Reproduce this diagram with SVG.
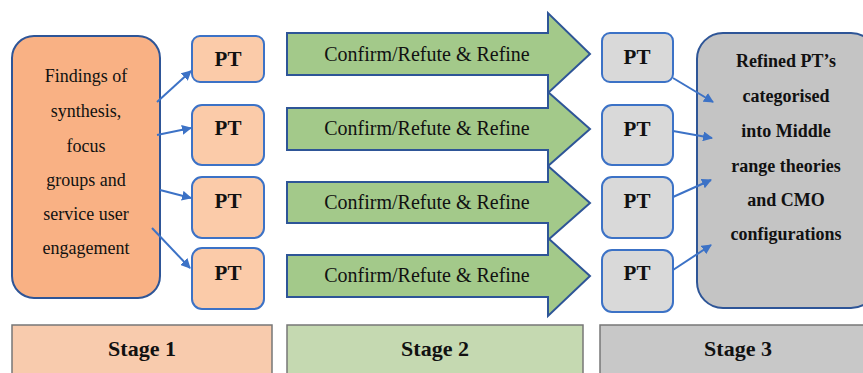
<svg xmlns="http://www.w3.org/2000/svg" width="863" height="373" viewBox="0 0 863 373">
<defs>
<marker id="ah" viewBox="0 0 10 10" refX="9" refY="5" markerWidth="5" markerHeight="5" orient="auto" markerUnits="strokeWidth">
<path d="M0,0 L10,5 L0,10 z" fill="#3C72C6"/>
</marker>
</defs>
<rect width="863" height="373" fill="#fff"/>

<g id="findings">
<rect x="12" y="36" width="148" height="262" rx="22" fill="#F9B184" stroke="#2E5597" stroke-width="2"/>
<text x="86" y="82" style="font-family:'Liberation Serif',serif" font-size="18" text-anchor="middle" fill="#111">Findings of</text>
<text x="86" y="117" style="font-family:'Liberation Serif',serif" font-size="18" text-anchor="middle" fill="#111">synthesis,</text>
<text x="86" y="152" style="font-family:'Liberation Serif',serif" font-size="18" text-anchor="middle" fill="#111">focus</text>
<text x="86" y="186" style="font-family:'Liberation Serif',serif" font-size="18" text-anchor="middle" fill="#111">groups and</text>
<text x="86" y="220" style="font-family:'Liberation Serif',serif" font-size="18" text-anchor="middle" fill="#111">service user</text>
<text x="86" y="254" style="font-family:'Liberation Serif',serif" font-size="18" text-anchor="middle" fill="#111">engagement</text>
</g>

<g id="pt1a"><rect x="192" y="36" width="72" height="46" rx="8" fill="#FBCBA9" stroke="#3C72C6" stroke-width="2"/><text x="228" y="66" style="font-family:'Liberation Serif',serif" font-size="21" font-weight="bold" text-anchor="middle" fill="#111">PT</text></g>
<g id="pt1b"><rect x="192" y="105" width="72" height="60" rx="10" fill="#FBCBA9" stroke="#3C72C6" stroke-width="2"/><text x="228" y="135" style="font-family:'Liberation Serif',serif" font-size="21" font-weight="bold" text-anchor="middle" fill="#111">PT</text></g>
<g id="pt1c"><rect x="192" y="177" width="72" height="61" rx="10" fill="#FBCBA9" stroke="#3C72C6" stroke-width="2"/><text x="228" y="208" style="font-family:'Liberation Serif',serif" font-size="21" font-weight="bold" text-anchor="middle" fill="#111">PT</text></g>
<g id="pt1d"><rect x="192" y="248" width="72" height="61" rx="10" fill="#FBCBA9" stroke="#3C72C6" stroke-width="2"/><text x="228" y="280" style="font-family:'Liberation Serif',serif" font-size="21" font-weight="bold" text-anchor="middle" fill="#111">PT</text></g>

<g id="arrow1"><path d="M287,33 H548 V13 L590,54 L548,93 V75 H287 Z" fill="#A3C98A" stroke="#2E5597" stroke-width="2"/><text x="427" y="61" style="font-family:'Liberation Serif',serif" font-size="20" text-anchor="middle" fill="#111">Confirm/Refute &amp; Refine</text></g>
<g id="arrow2"><path d="M287,108 H548 V92 L590,129 L548,166 V150 H287 Z" fill="#A3C98A" stroke="#2E5597" stroke-width="2"/><text x="427" y="135" style="font-family:'Liberation Serif',serif" font-size="20" text-anchor="middle" fill="#111">Confirm/Refute &amp; Refine</text></g>
<g id="arrow3"><path d="M287,182 H548 V166 L590,203 L548,240 V223 H287 Z" fill="#A3C98A" stroke="#2E5597" stroke-width="2"/><text x="427" y="209" style="font-family:'Liberation Serif',serif" font-size="20" text-anchor="middle" fill="#111">Confirm/Refute &amp; Refine</text></g>
<g id="arrow4"><path d="M287,255 H548 V238 L590,276 L548,316 V297 H287 Z" fill="#A3C98A" stroke="#2E5597" stroke-width="2"/><text x="427" y="282" style="font-family:'Liberation Serif',serif" font-size="20" text-anchor="middle" fill="#111">Confirm/Refute &amp; Refine</text></g>

<g id="pt3a"><rect x="602" y="33" width="71" height="49" rx="8" fill="#D9D9D9" stroke="#3C72C6" stroke-width="2"/><text x="637" y="64" style="font-family:'Liberation Serif',serif" font-size="21" font-weight="bold" text-anchor="middle" fill="#111">PT</text></g>
<g id="pt3b"><rect x="602" y="105" width="71" height="60" rx="10" fill="#D9D9D9" stroke="#3C72C6" stroke-width="2"/><text x="637" y="136" style="font-family:'Liberation Serif',serif" font-size="21" font-weight="bold" text-anchor="middle" fill="#111">PT</text></g>
<g id="pt3c"><rect x="602" y="177" width="71" height="61" rx="10" fill="#D9D9D9" stroke="#3C72C6" stroke-width="2"/><text x="637" y="208" style="font-family:'Liberation Serif',serif" font-size="21" font-weight="bold" text-anchor="middle" fill="#111">PT</text></g>
<g id="pt3d"><rect x="602" y="250" width="71" height="62" rx="10" fill="#D9D9D9" stroke="#3C72C6" stroke-width="2"/><text x="637" y="280" style="font-family:'Liberation Serif',serif" font-size="21" font-weight="bold" text-anchor="middle" fill="#111">PT</text></g>

<g id="refined">
<rect x="697" y="33" width="180" height="275" rx="26" fill="#C4C4C4" stroke="#2E5597" stroke-width="2"/>
<text x="786" y="67" style="font-family:'Liberation Serif',serif" font-size="18" font-weight="bold" text-anchor="middle" fill="#111">Refined PT’s</text>
<text x="786" y="102" style="font-family:'Liberation Serif',serif" font-size="18" font-weight="bold" text-anchor="middle" fill="#111">categorised</text>
<text x="786" y="137" style="font-family:'Liberation Serif',serif" font-size="18" font-weight="bold" text-anchor="middle" fill="#111">into Middle</text>
<text x="786" y="172" style="font-family:'Liberation Serif',serif" font-size="18" font-weight="bold" text-anchor="middle" fill="#111">range theories</text>
<text x="786" y="206" style="font-family:'Liberation Serif',serif" font-size="18" font-weight="bold" text-anchor="middle" fill="#111">and CMO</text>
<text x="786" y="240" style="font-family:'Liberation Serif',serif" font-size="18" font-weight="bold" text-anchor="middle" fill="#111">configurations</text>
</g>

<g id="connectors" stroke="#3C72C6" stroke-width="2" fill="none">
<line x1="157" y1="102" x2="191" y2="71" marker-end="url(#ah)"/>
<line x1="157" y1="135" x2="191" y2="128" marker-end="url(#ah)"/>
<line x1="160" y1="190" x2="191" y2="198" marker-end="url(#ah)"/>
<line x1="152" y1="228" x2="190" y2="268" marker-end="url(#ah)"/>
<line x1="673" y1="78" x2="713" y2="102" marker-end="url(#ah)"/>
<line x1="673" y1="131" x2="712" y2="138" marker-end="url(#ah)"/>
<line x1="673" y1="197" x2="711" y2="180" marker-end="url(#ah)"/>
<line x1="673" y1="270" x2="711" y2="245" marker-end="url(#ah)"/>
</g>

<g id="stage1"><rect x="12" y="325" width="260" height="52" fill="#F8CBAD" stroke="#777" stroke-width="1.5"/><text x="142" y="356" style="font-family:'Liberation Serif',serif" font-size="22" font-weight="bold" text-anchor="middle" fill="#111">Stage 1</text></g>
<g id="stage2"><rect x="287" y="325" width="296" height="52" fill="#C5D9B1" stroke="#777" stroke-width="1.5"/><text x="435" y="356" style="font-family:'Liberation Serif',serif" font-size="22" font-weight="bold" text-anchor="middle" fill="#111">Stage 2</text></g>
<g id="stage3"><rect x="600" y="325" width="270" height="52" fill="#C8C8C8" stroke="#777" stroke-width="1.5"/><text x="738" y="356" style="font-family:'Liberation Serif',serif" font-size="22" font-weight="bold" text-anchor="middle" fill="#111">Stage 3</text></g>
</svg>
